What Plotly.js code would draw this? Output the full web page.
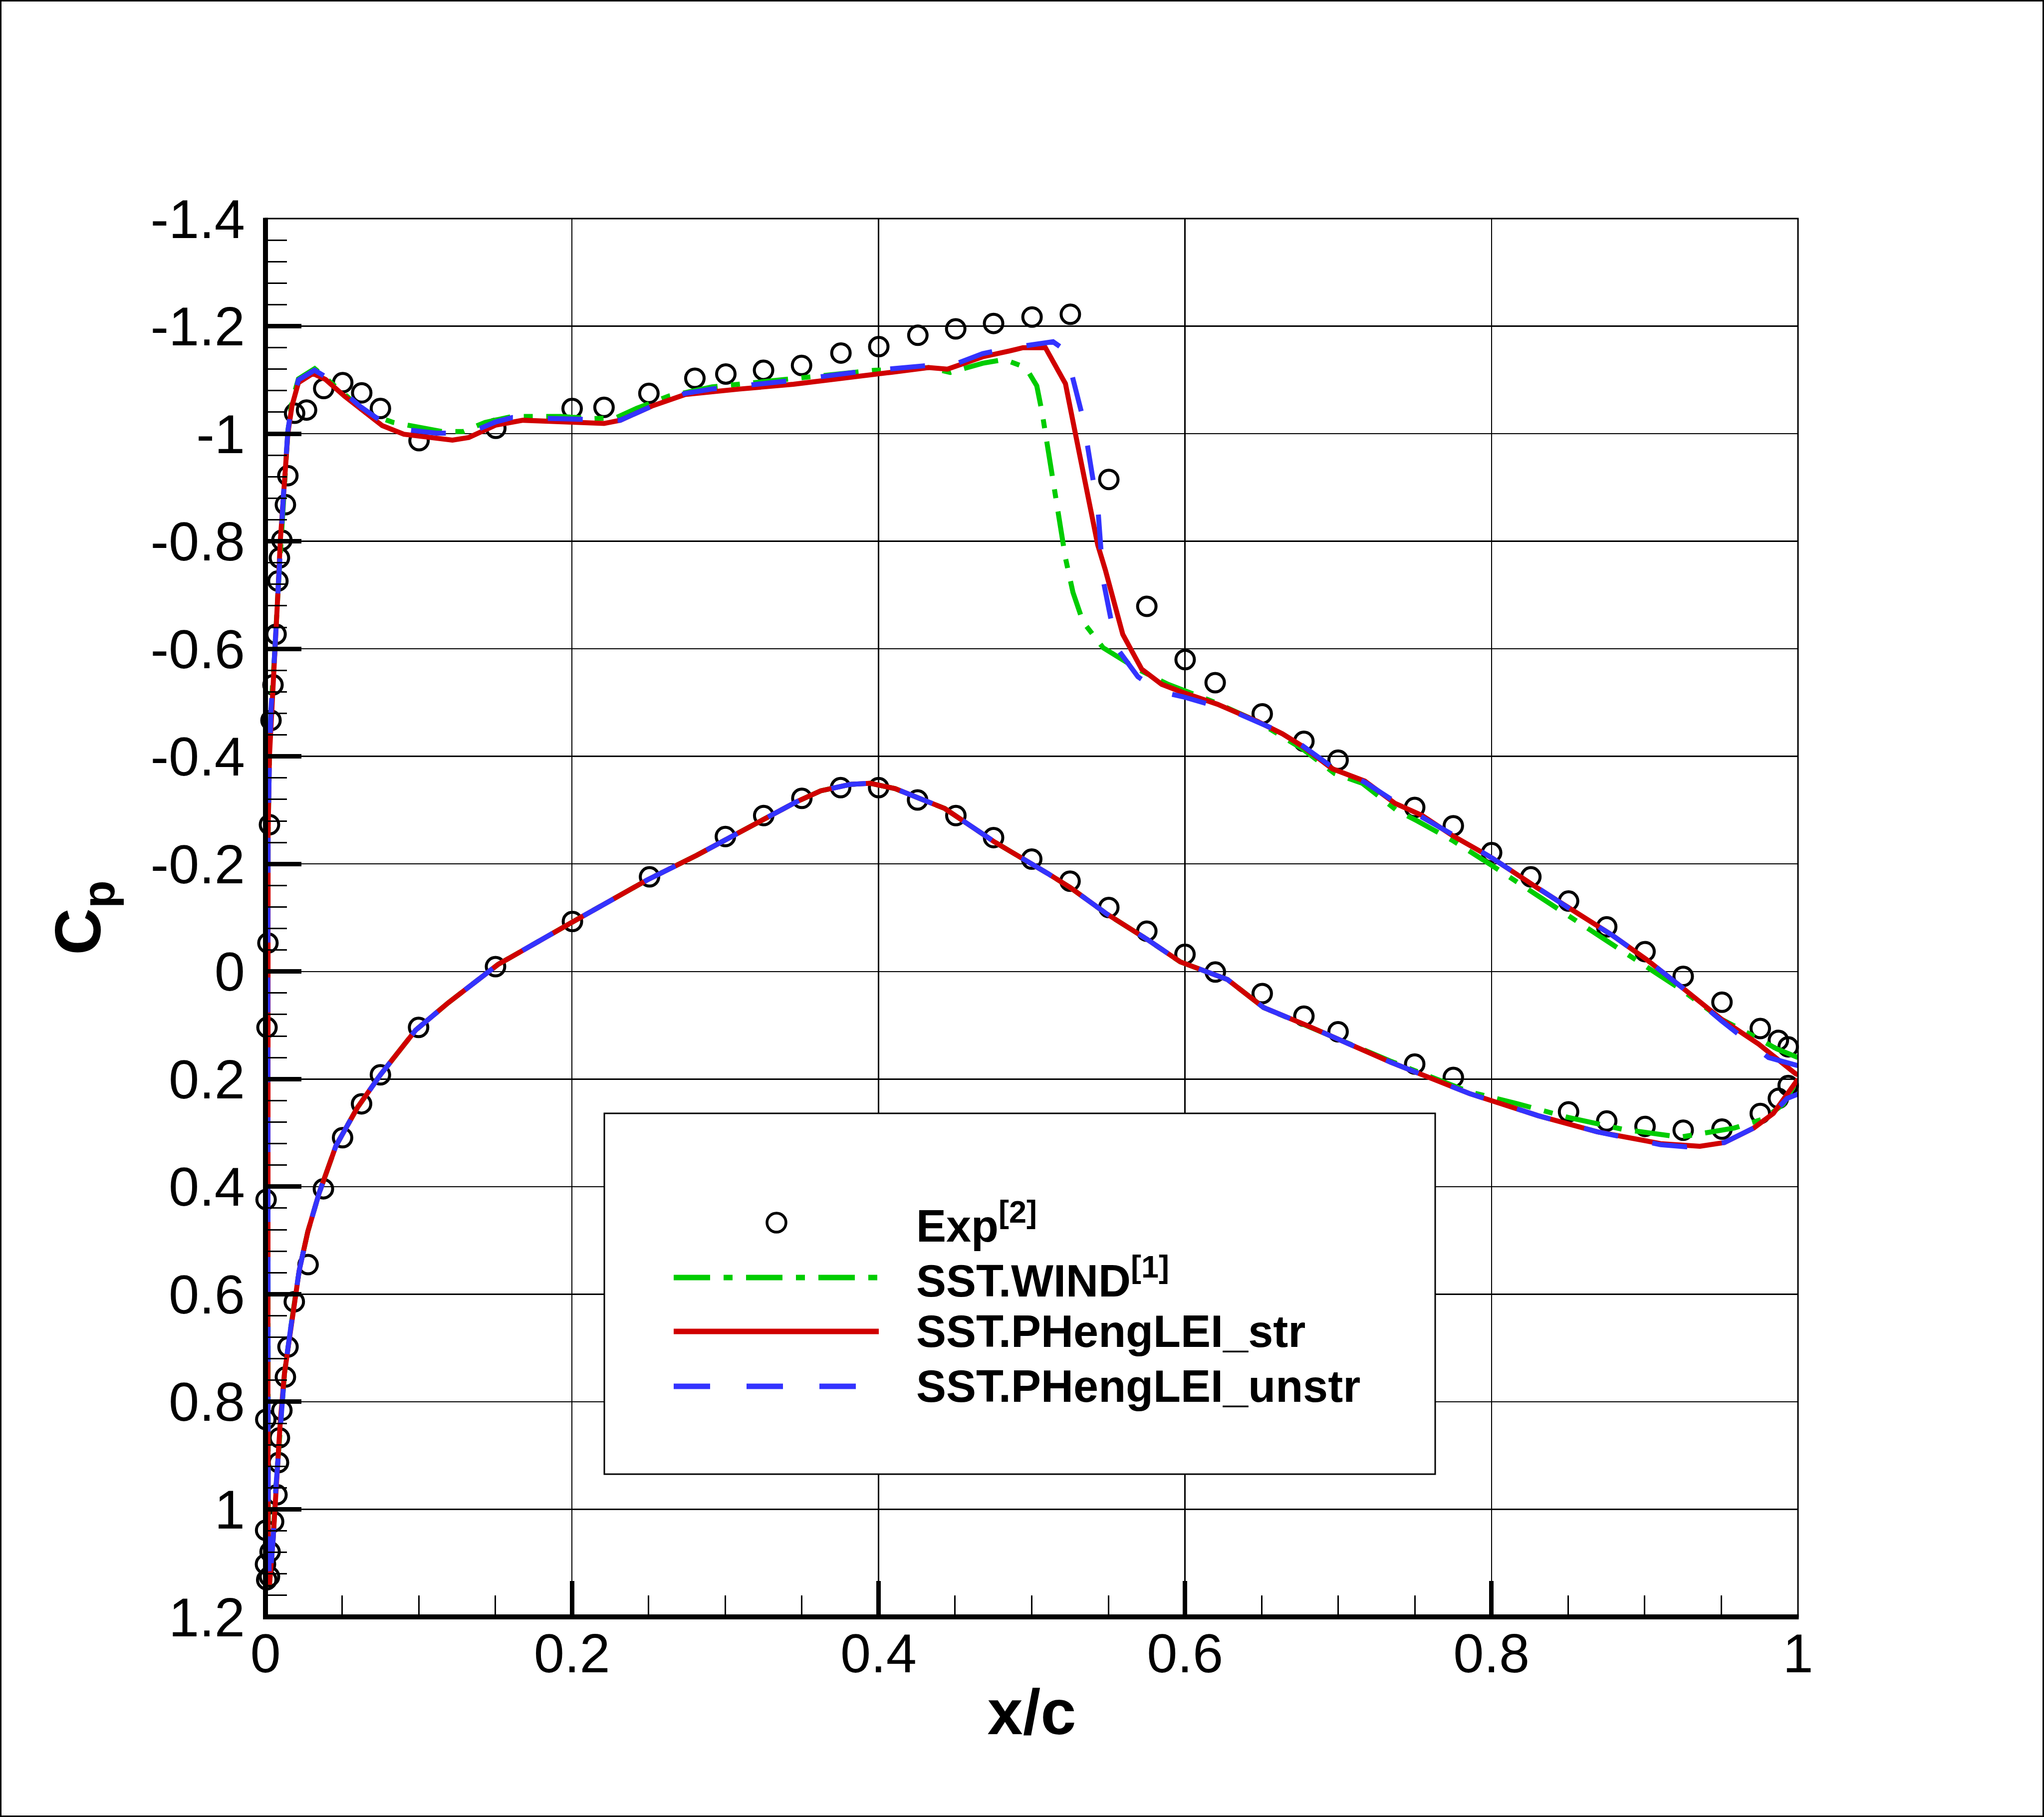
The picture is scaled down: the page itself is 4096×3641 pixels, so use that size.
<!DOCTYPE html>
<html>
<head>
<meta charset="utf-8">
<script src="https://cdn.plot.ly/plotly-3.0.1.min.js"></script>
<style>
  html, body { margin: 0; padding: 0; background: #fff; }
  #plot { width: 4096px; height: 3641px; }
</style>
</head>
<body>
<div id="plot"></div>
<script>
// ---------------- data ----------------
const xTickVals = [0, 0.2, 0.4, 0.6, 0.8, 1];
const xTickText = ['0', '0.2', '0.4', '0.6', '0.8', '1'];
const yTickVals = [-1.4, -1.2, -1, -0.8, -0.6, -0.4, -0.2, 0, 0.2, 0.4, 0.6, 0.8, 1, 1.2];
const yTickText = ['-1.4', '-1.2', '-1', '-0.8', '-0.6', '-0.4', '-0.2', '0', '0.2', '0.4', '0.6', '0.8', '1', '1.2'];

const seriesNames = ['Exp<sup>[2]</sup>', 'SST.WIND<sup>[1]</sup>', 'SST.PHengLEI_str', 'SST.PHengLEI_unstr'];

// Experiment (upper surface TE -> LE, then lower surface LE -> TE)
const expX = [0.9936, 0.9872, 0.9754, 0.9504, 0.9251, 0.9002, 0.8752, 0.8503, 0.8257, 0.8001,
  0.7751, 0.7499, 0.6999, 0.6776, 0.6504, 0.6197, 0.6001, 0.5751, 0.5503, 0.5252,
  0.5002, 0.4751, 0.4504, 0.4257, 0.4002, 0.3755, 0.3498, 0.3250, 0.3004, 0.2802,
  0.2502, 0.2209, 0.2001, 0.1503, 0.1002, 0.0750, 0.0628, 0.0504, 0.0380, 0.0268,
  0.0190, 0.0146, 0.0130, 0.0107, 0.0091, 0.0081, 0.0069, 0.0049, 0.0036, 0.0026,
  0.0016, 0.0010, 0.0004,
  0.0002, 0.0001, 0.0000, 0.0008, 0.0026, 0.0030, 0.0053, 0.0075, 0.0085, 0.0091,
  0.0107, 0.0130, 0.0147, 0.0188, 0.0278, 0.0378, 0.0503, 0.0627, 0.0750, 0.0999,
  0.1501, 0.2003, 0.2506, 0.3001, 0.3251, 0.3500, 0.3753, 0.4001, 0.4255, 0.4505,
  0.4751, 0.5000, 0.5250, 0.5503, 0.5751, 0.6000, 0.6198, 0.6504, 0.6776, 0.6999,
  0.7499, 0.7751, 0.8503, 0.8752, 0.9002, 0.9251, 0.9504, 0.9754, 0.9872, 0.9936];
const expCp = [0.140, 0.128, 0.106, 0.057, 0.009, -0.037, -0.083, -0.131, -0.176, -0.221,
  -0.271, -0.305, -0.393, -0.428, -0.479, -0.537, -0.580, -0.679, -0.915, -1.222,
  -1.217, -1.205, -1.195, -1.183, -1.162, -1.150, -1.127, -1.118, -1.111, -1.103,
  -1.075, -1.049, -1.047, -1.010, -0.987, -1.047, -1.076, -1.095, -1.084, -1.044,
  -1.038, -0.922, -0.868, -0.802, -0.769, -0.726, -0.627, -0.533, -0.467, -0.273,
  -0.053, 0.104, 0.424,
  0.833, 1.039, 1.102, 1.131, 1.125, 1.079, 1.023, 0.973, 0.913, 0.867,
  0.816, 0.754, 0.698, 0.614, 0.545, 0.404, 0.309, 0.246, 0.192, 0.104,
  -0.009, -0.093, -0.176, -0.251, -0.290, -0.322, -0.342, -0.342, -0.319, -0.290,
  -0.249, -0.209, -0.168, -0.119, -0.075, -0.032, 0.001, 0.041, 0.083, 0.112,
  0.172, 0.197, 0.261, 0.278, 0.288, 0.295, 0.293, 0.264, 0.236, 0.212];

// SST.WIND
const windX = [1.0, 0.9863, 0.9697, 0.9502, 0.9241, 0.9013, 0.8785, 0.8525, 0.8297, 0.8004,
  0.7744, 0.7516, 0.7385, 0.7157, 0.6978, 0.6766, 0.6473, 0.6182, 0.5889, 0.5693,
  0.5466, 0.5335, 0.5269, 0.5220, 0.5138, 0.5089, 0.5068, 0.5033, 0.4976, 0.4943,
  0.4821, 0.4680, 0.4468, 0.4327, 0.4186, 0.3974, 0.3621, 0.3268, 0.2915, 0.2633,
  0.2421, 0.2290, 0.2139, 0.1927, 0.1750, 0.1610, 0.1433, 0.1290, 0.1150, 0.0833,
  0.0656, 0.0444, 0.0321, 0.0215, 0.0173, 0.0146, 0.0117, 0.0097, 0.0081, 0.0059,
  0.0036, 0.0026, 0.0017, 0.0015, 0.0015, 0.0016, 0.0018, 0.0026, 0.0049, 0.0069,
  0.0097, 0.0124, 0.0166, 0.0220, 0.0276, 0.0350, 0.0460, 0.0600, 0.0750, 0.0980,
  0.1193, 0.1517, 0.2003, 0.2489, 0.2813, 0.3137, 0.3461, 0.3623, 0.3818, 0.3947,
  0.4109, 0.4433, 0.4757, 0.5106, 0.5252, 0.5490, 0.5757, 0.5969, 0.6278, 0.6513,
  0.6801, 0.7345, 0.7857, 0.8145, 0.8497, 0.8850, 0.9232, 0.9584, 0.9776, 0.9904, 1.0];
const windCp = [0.160, 0.144, 0.118, 0.089, 0.034, -0.008, -0.050, -0.100, -0.142, -0.197,
  -0.244, -0.280, -0.299, -0.350, -0.368, -0.414, -0.465, -0.502, -0.534, -0.562,
  -0.602, -0.650, -0.705, -0.769, -0.917, -1.000, -1.039, -1.089, -1.116, -1.125,
  -1.138, -1.131, -1.114, -1.123, -1.120, -1.118, -1.107, -1.096, -1.087, -1.070,
  -1.047, -1.030, -1.028, -1.032, -1.033, -1.032, -1.021, -1.004, -1.004, -1.021,
  -1.039, -1.089, -1.121, -1.102, -1.060, -1.005, -0.885, -0.802, -0.703, -0.587,
  -0.488, -0.401, -0.256, -0.007, 0.400, 0.800, 1.050, 1.140, 1.059, 0.955,
  0.835, 0.747, 0.660, 0.556, 0.484, 0.412, 0.324, 0.253, 0.192, 0.109,
  0.058, -0.013, -0.092, -0.170, -0.216, -0.266, -0.315, -0.336, -0.348, -0.350,
  -0.340, -0.303, -0.241, -0.182, -0.156, -0.107, -0.059, -0.018, 0.015, 0.067,
  0.101, 0.167, 0.224, 0.244, 0.271, 0.293, 0.308, 0.291, 0.274, 0.247, 0.200];

// SST.PHengLEI_str
const strX = [1.0, 0.9984, 0.9744, 0.9502, 0.9241, 0.9013, 0.8785, 0.8525, 0.8297, 0.8004,
  0.7744, 0.7548, 0.7369, 0.7174, 0.6961, 0.6766, 0.6636, 0.6473, 0.6212, 0.5985,
  0.5848, 0.5718, 0.5594, 0.5480, 0.5431, 0.5285, 0.5220, 0.5089, 0.4943, 0.4857,
  0.4680, 0.4450, 0.4327, 0.4080, 0.3798, 0.3445, 0.3092, 0.2739, 0.2527, 0.2315,
  0.2209, 0.1997, 0.1680, 0.1503, 0.1327, 0.1220, 0.1044, 0.0903, 0.0762, 0.0621,
  0.0515, 0.0391, 0.0310, 0.0215, 0.0173, 0.0146, 0.0117, 0.0097, 0.0081, 0.0059,
  0.0036, 0.0026, 0.0017, 0.0015, 0.0015, 0.0016, 0.0018, 0.0026, 0.0049, 0.0069,
  0.0097, 0.0124, 0.0166, 0.0220, 0.0276, 0.0350, 0.0460, 0.0600, 0.0750, 0.0980,
  0.1193, 0.1517, 0.2003, 0.2489, 0.2813, 0.3137, 0.3461, 0.3623, 0.3818, 0.3947,
  0.4109, 0.4433, 0.4757, 0.5106, 0.5252, 0.5490, 0.5757, 0.5969, 0.6278, 0.6513,
  0.6801, 0.7345, 0.7857, 0.8304, 0.8689, 0.9104, 0.9360, 0.9520, 0.9711, 0.9839,
  0.9929, 1.0];
const strCp = [0.192, 0.190, 0.135, 0.089, 0.029, -0.022, -0.068, -0.114, -0.156, -0.211,
  -0.253, -0.290, -0.313, -0.354, -0.377, -0.419, -0.442, -0.465, -0.497, -0.519,
  -0.534, -0.562, -0.627, -0.747, -0.793, -1.000, -1.093, -1.160, -1.160, -1.154,
  -1.143, -1.120, -1.123, -1.114, -1.104, -1.092, -1.083, -1.073, -1.052, -1.025,
  -1.019, -1.021, -1.025, -1.016, -0.993, -0.988, -0.995, -0.999, -1.015, -1.046,
  -1.070, -1.101, -1.112, -1.095, -1.052, -1.000, -0.885, -0.802, -0.703, -0.587,
  -0.488, -0.401, -0.256, -0.007, 0.400, 0.800, 1.050, 1.140, 1.059, 0.955,
  0.835, 0.747, 0.660, 0.556, 0.484, 0.412, 0.324, 0.253, 0.192, 0.109,
  0.058, -0.013, -0.092, -0.170, -0.216, -0.266, -0.315, -0.336, -0.348, -0.350,
  -0.340, -0.303, -0.241, -0.182, -0.156, -0.107, -0.059, -0.018, 0.015, 0.067,
  0.101, 0.169, 0.227, 0.268, 0.298, 0.320, 0.325, 0.318, 0.291, 0.264,
  0.230, 0.200];

// SST.PHengLEI_unstr
const unstrX = [1.0, 0.9808, 0.9502, 0.9241, 0.9013, 0.8785, 0.8525, 0.8297, 0.8004, 0.7744,
  0.7548, 0.7369, 0.7174, 0.6961, 0.6766, 0.6636, 0.6473, 0.6312, 0.5985, 0.5840,
  0.5693, 0.5562, 0.5514, 0.5466, 0.5433, 0.5400, 0.5360, 0.5335, 0.5269, 0.5220,
  0.5139, 0.4873, 0.4680, 0.4450, 0.4327, 0.3868, 0.3409, 0.2910, 0.2739, 0.2527,
  0.2315, 0.2033, 0.1610, 0.1503, 0.1327, 0.1115, 0.0903, 0.0762, 0.0621, 0.0515,
  0.0391, 0.0320, 0.0215, 0.0173, 0.0146, 0.0117, 0.0097, 0.0081, 0.0059, 0.0036,
  0.0026, 0.0017, 0.0015, 0.0015, 0.0016, 0.0018, 0.0026, 0.0049, 0.0069, 0.0097,
  0.0124, 0.0166, 0.0220, 0.0276, 0.0350, 0.0460, 0.0600, 0.0750, 0.0980, 0.1193,
  0.1517, 0.2003, 0.2489, 0.2813, 0.3137, 0.3461, 0.3623, 0.3818, 0.3947, 0.4109,
  0.4433, 0.4757, 0.5106, 0.5252, 0.5490, 0.5757, 0.5969, 0.6278, 0.6513, 0.6801,
  0.7345, 0.7857, 0.8304, 0.8689, 0.9104, 0.9269, 0.9520, 0.9711, 0.9839, 0.9929, 1.0];
const unstrCp = [0.175, 0.160, 0.092, 0.029, -0.022, -0.068, -0.114, -0.156, -0.211, -0.255,
  -0.288, -0.316, -0.352, -0.380, -0.420, -0.444, -0.464, -0.484, -0.511, -0.520,
  -0.548, -0.599, -0.659, -0.728, -0.857, -0.918, -0.991, -1.028, -1.102, -1.155,
  -1.171, -1.160, -1.149, -1.124, -1.127, -1.115, -1.098, -1.083, -1.075, -1.052,
  -1.025, -1.027, -1.030, -1.022, -1.001, -1.001, -1.008, -1.022, -1.050, -1.076,
  -1.106, -1.118, -1.100, -1.058, -1.005, -0.885, -0.802, -0.703, -0.587, -0.488,
  -0.401, -0.256, -0.007, 0.400, 0.800, 1.050, 1.140, 1.059, 0.955, 0.835,
  0.747, 0.660, 0.556, 0.484, 0.412, 0.324, 0.253, 0.192, 0.109, 0.058,
  -0.013, -0.092, -0.170, -0.216, -0.266, -0.315, -0.336, -0.348, -0.350, -0.340,
  -0.303, -0.241, -0.182, -0.156, -0.107, -0.059, -0.018, 0.015, 0.067, 0.101,
  0.169, 0.227, 0.268, 0.298, 0.322, 0.326, 0.318, 0.291, 0.264, 0.236, 0.228];

// ---------------- styles ----------------
const FONT = 'Liberation Sans, Arial, Helvetica, sans-serif';
const GREEN = '#00cc00', RED = '#d00000', BLUE = '#3333ff';
const DASH_DOT = '70px,27px,18px,27px';
const DASH = '70px,70px';
const LW = 10;

const traces = [
  { type: 'scatter', mode: 'markers', name: seriesNames[0], x: expX, y: expCp, cliponaxis: false,
    marker: { symbol: 'circle-open', size: 37, color: '#000', line: { width: 6, color: '#000' } } },
  { type: 'scatter', mode: 'lines', name: seriesNames[1], x: windX, y: windCp,
    line: { color: GREEN, width: LW, dash: DASH_DOT } },
  { type: 'scatter', mode: 'lines', name: seriesNames[2], x: strX, y: strCp,
    line: { color: RED, width: LW } },
  { type: 'scatter', mode: 'lines', name: seriesNames[3], x: unstrX, y: unstrCp,
    line: { color: BLUE, width: LW, dash: DASH } }
];

const ML = 532, MR = 493, MT = 438, MB = 401;
const PW = 4096 - ML - MR, PH = 3641 - MT - MB; // plot area in px
const px = v => v / PW, py = v => v / PH;

// legend (drawn by hand: box, samples, labels)
const legBox = { x0: px(1211 - ML), x1: px(2876 - ML), y0: py(3240 - 2954), y1: py(3240 - 2231) };
const legSymX0 = px(1350 - ML), legSymX1 = px(1761 - ML), legSymXc = px(1556 - ML);
const legRowY = [py(3240 - 2450), py(3240 - 2560), py(3240 - 2668), py(3240 - 2778)];
const legTextX = px(1834 - ML);

const shapes = [
  // outer picture frame
  { type: 'rect', xref: 'paper', yref: 'paper', x0: -px(ML), x1: 1 + px(MR), y0: -py(MB), y1: 1 + py(MT),
    layer: 'above', line: { color: '#000', width: 6 } },
  // thin frame (top / right)
  { type: 'rect', xref: 'paper', yref: 'paper', x0: 0, x1: 1, y0: 0, y1: 1, layer: 'above',
    line: { color: '#000', width: 3 } },
  // thick left & bottom axis lines
  { type: 'line', xref: 'paper', yref: 'paper', x0: 0, x1: 0, y0: -py(5), y1: 1 + py(1.5), layer: 'above',
    line: { color: '#000', width: 10 } },
  { type: 'line', xref: 'paper', yref: 'paper', x0: -px(5), x1: 1 + px(1.5), y0: 0, y1: 0, layer: 'above',
    line: { color: '#000', width: 10 } },
  // legend box
  { type: 'rect', xref: 'paper', yref: 'paper', x0: legBox.x0, x1: legBox.x1, y0: legBox.y0, y1: legBox.y1,
    layer: 'above', fillcolor: '#fff', line: { color: '#000', width: 3 } },
  // legend samples
  { type: 'circle', xref: 'paper', yref: 'paper', xsizemode: 'pixel', ysizemode: 'pixel',
    xanchor: legSymXc, yanchor: legRowY[0], x0: -19, x1: 19, y0: -19, y1: 19, layer: 'above',
    line: { color: '#000', width: 5.5 } },
  { type: 'line', xref: 'paper', yref: 'paper', x0: legSymX0, x1: legSymX1, y0: legRowY[1], y1: legRowY[1],
    layer: 'above', line: { color: GREEN, width: 11, dash: '73px,27px,18px,27px' } },
  { type: 'line', xref: 'paper', yref: 'paper', x0: legSymX0, x1: legSymX1, y0: legRowY[2], y1: legRowY[2],
    layer: 'above', line: { color: RED, width: 11 } },
  { type: 'line', xref: 'paper', yref: 'paper', x0: legSymX0, x1: legSymX1, y0: legRowY[3], y1: legRowY[3],
    layer: 'above', line: { color: BLUE, width: 11, dash: '73px,73px' } }
];

const annotations = seriesNames.map((n, i) => ({
  xref: 'paper', yref: 'paper', x: legTextX, y: legRowY[i], xanchor: 'left', yanchor: 'middle',
  text: '<b>' + n + '</b>', showarrow: false, font: { family: FONT, size: 90, color: '#000' }
}));

const axisCommon = {
  tickmode: 'array', ticks: 'inside', tickcolor: '#000', ticklen: 72, tickwidth: 9,
  showgrid: true, gridcolor: '#000', gridwidth: 2.5, zeroline: false, showline: false,
  tickfont: { family: FONT, size: 110, color: '#000' }, automargin: false, fixedrange: true
};

const layout = {
  width: 4096, height: 3641,
  margin: { l: ML, r: MR, t: MT, b: MB, pad: 0 },
  paper_bgcolor: '#fff', plot_bgcolor: '#fff',
  showlegend: false,
  font: { family: FONT, color: '#000' },
  xaxis: Object.assign({}, axisCommon, {
    range: [0, 1], tickvals: xTickVals, ticktext: xTickText,
    minor: { tickmode: 'linear', tick0: 0, dtick: 0.05, ticks: 'inside', ticklen: 43, tickwidth: 3, tickcolor: '#000', showgrid: false },
    ticklabelstandoff: 0,
    title: { text: '<b>x/c</b>', font: { family: FONT, size: 128, color: '#000' }, standoff: 12 }
  }),
  yaxis: Object.assign({}, axisCommon, {
    range: [1.2, -1.4], tickvals: yTickVals, ticktext: yTickText,
    minor: { tickmode: 'linear', tick0: 0, dtick: 0.04, ticks: 'inside', ticklen: 43, tickwidth: 3, tickcolor: '#000', showgrid: false },
    ticklabelstandoff: 40,
    title: { text: '<b>C<sub>p</sub></b>', font: { family: FONT, size: 130, color: '#000' }, standoff: 55 }
  }),
  shapes: shapes,
  annotations: annotations
};

Plotly.newPlot('plot', traces, layout, { displayModeBar: false, staticPlot: true });
</script>
</body>
</html>
